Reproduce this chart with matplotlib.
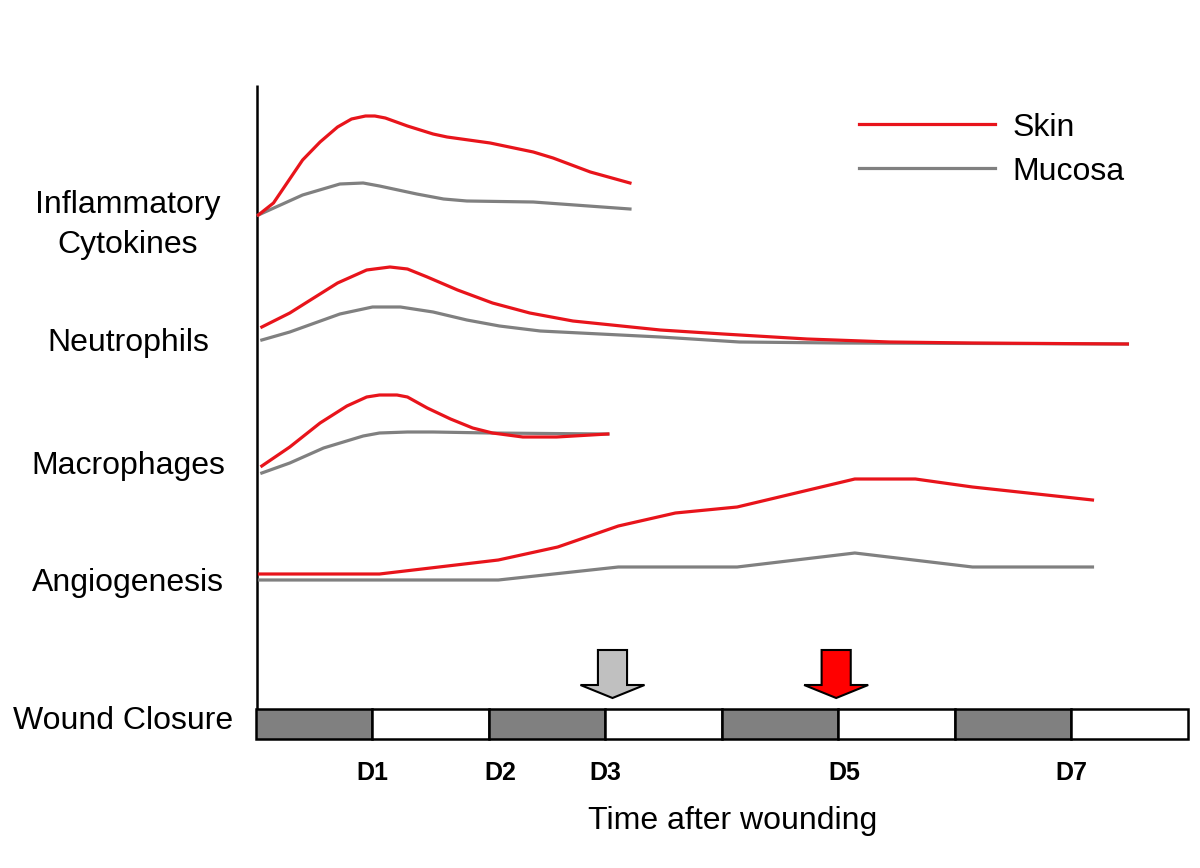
import matplotlib
matplotlib.use("Agg")
import matplotlib.pyplot as plt
from matplotlib.patches import Rectangle, Polygon

plt.rcParams['font.family'] = ['Liberation Sans', 'DejaVu Sans']

# ---------------- data (x in days after wounding, y = curve level on figure scale) ----------------
series_names = ["Skin", "Mucosa"]
row_labels = ["Inflammatory\nCytokines", "Neutrophils", "Macrophages", "Angiogenesis"]

cyto_skin_x = [0.02, 0.15, 0.40, 0.55, 0.70, 0.82, 0.94, 1.02, 1.11, 1.30, 1.52, 1.64, 2.01, 2.38, 2.55, 2.87, 3.21]
cyto_skin_y = [215, 203, 160, 142, 127, 119, 116, 116, 118, 126, 134, 137, 143, 152, 158, 172, 183]
cyto_muc_x = [0.02, 0.40, 0.72, 0.92, 1.06, 1.38, 1.61, 1.81, 2.38, 3.21]
cyto_muc_y = [215, 195, 184, 183, 186, 194, 199, 201, 202, 209]

neut_skin_x = [0.05, 0.29, 0.44, 0.70, 0.95, 1.15, 1.30, 1.47, 1.73, 2.03, 2.35, 2.72, 3.47, 4.01, 4.73, 5.44, 6.15, 7.48]
neut_skin_y = [327, 313, 302, 283, 270, 267, 269, 277, 290, 303, 313, 321, 330, 334, 339, 342, 343, 344]
neut_muc_x = [0.05, 0.29, 0.72, 1.00, 1.24, 1.52, 1.81, 2.09, 2.44, 3.47, 4.15, 5.01, 7.48]
neut_muc_y = [340, 332, 314, 307, 307, 312, 320, 326, 331, 337, 342, 343, 344]

macro_skin_x = [0.05, 0.29, 0.55, 0.78, 0.95, 1.06, 1.21, 1.30, 1.47, 1.67, 1.86, 2.03, 2.29, 2.58, 3.02]
macro_skin_y = [466, 447, 423, 406, 397, 395, 395, 397, 408, 419, 428, 433, 437, 437, 434]
macro_muc_x = [0.05, 0.29, 0.58, 0.92, 1.06, 1.30, 1.52, 2.01, 3.02]
macro_muc_y = [473, 463, 448, 436, 433, 432, 432, 433, 434]

angio_skin_x = [0.03, 1.06, 2.08, 2.59, 3.11, 3.60, 4.13, 5.14, 5.66, 6.15, 7.18]
angio_skin_y = [574, 574, 560, 547, 526, 513, 507, 479, 479, 487, 500]
angio_muc_x = [0.03, 2.08, 3.11, 4.13, 5.14, 6.15, 7.18]
angio_muc_y = [580, 580, 567, 567, 553, 567, 567]

closure_days = [0, 1, 2, 3, 4, 5, 6, 7]          # start of each closure segment
closure_fill = ["#808080", "white", "#808080", "white", "#808080", "white", "#808080", "white"]

day_tick_pos = [1.0, 2.1, 3.0, 5.05, 7.0]
day_tick_labels = ["D1", "D2", "D3", "D5", "D7"]

arrow_days = [3.06, 4.98]
arrow_colors = ["#c0c0c0", "#ff0000"]

# ---------------- styling ----------------
RED = "#e8141b"
GRAY = "#808080"
LW = 2.3
FS = 23

fig = plt.figure(figsize=(12, 8.68), dpi=100)
ax = fig.add_axes([0, 0, 1, 1])
px_per_day = 116.5
ax.set_xlim(-256 / px_per_day, (1200 - 256) / px_per_day)
ax.set_ylim(868, 0)
ax.axis("off")

# vertical axis line
ax.plot([0.01, 0.01], [85, 709], color="black", lw=1.8, solid_capstyle="butt")

pairs = [(cyto_skin_x, cyto_skin_y, cyto_muc_x, cyto_muc_y),
         (neut_skin_x, neut_skin_y, neut_muc_x, neut_muc_y),
         (macro_skin_x, macro_skin_y, macro_muc_x, macro_muc_y),
         (angio_skin_x, angio_skin_y, angio_muc_x, angio_muc_y)]
for sx, sy, mx, my in pairs:
    ax.plot(mx, my, color=GRAY, lw=LW, solid_joinstyle="round")
    ax.plot(sx, sy, color=RED, lw=LW, solid_joinstyle="round")

# row labels
label_y = [225, 343, 466, 583]
label_x = -1.10
for lab, yy in zip(row_labels, label_y):
    ax.text(label_x, yy, lab, ha="center", va="center", fontsize=FS, linespacing=1.4)
ax.text(-2.09, 721, "Wound Closure", ha="left", va="center", fontsize=FS)

# wound closure bar
for d, fc in zip(closure_days, closure_fill):
    ax.add_patch(Rectangle((d, 709), 1, 30, facecolor=fc, edgecolor="black", lw=1.8, zorder=3))

# arrows
shaft_hw, head_hw = 0.125, 0.275
for d, c in zip(arrow_days, arrow_colors):
    pts = [(d - shaft_hw, 650), (d + shaft_hw, 650), (d + shaft_hw, 685), (d + head_hw, 685),
           (d, 698), (d - head_hw, 685), (d - shaft_hw, 685)]
    ax.add_patch(Polygon(pts, closed=True, facecolor=c, edgecolor="black", lw=1.5, zorder=3))

# day labels
for pos, lab in zip(day_tick_pos, day_tick_labels):
    ax.text(pos, 773, lab, ha="center", va="center", fontsize=18, fontweight="bold")

ax.text(4.09, 821, "Time after wounding", ha="center", va="center", fontsize=FS)

# legend
leg_x = [5.18, 6.34]
for name, c, yy in zip(series_names, [RED, GRAY], [124, 168]):
    ax.plot(leg_x, [yy, yy], color=c, lw=LW)
    ax.text(6.49, yy + 4, name, ha="left", va="center", fontsize=FS)

fig.savefig("out.png", dpi=100)
